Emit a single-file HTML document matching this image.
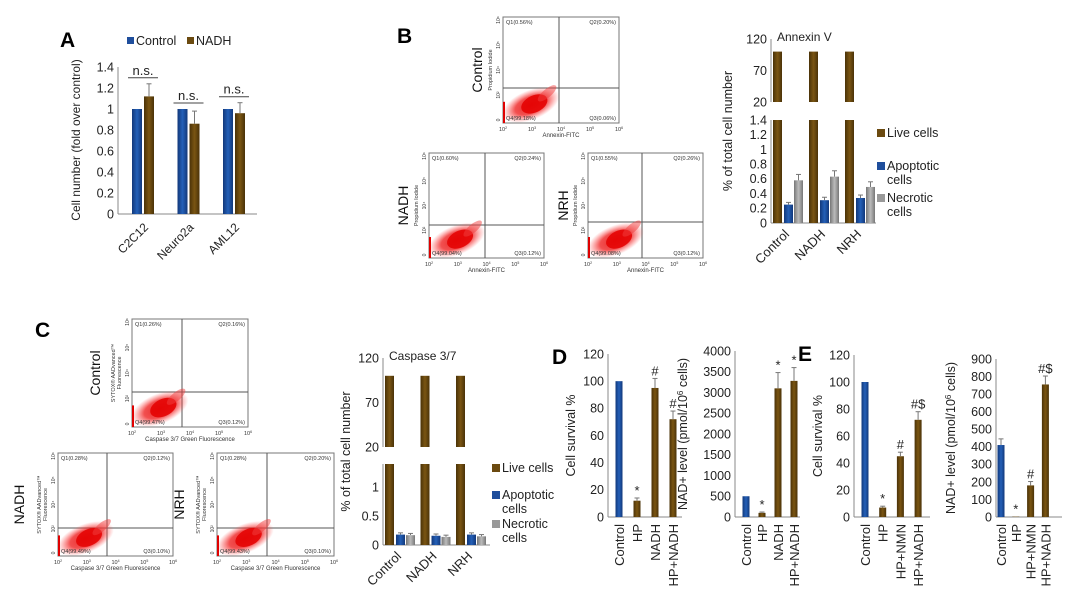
<!DOCTYPE html>
<html><head><meta charset="utf-8"><style>
html,body{margin:0;padding:0;background:#fff}
svg{display:block;font-family:"Liberation Sans",Arial,sans-serif}
</style></head><body>
<svg id="fig" width="1080" height="598" viewBox="0 0 1080 598">
<defs>
<radialGradient id="blob" cx="50%" cy="50%" r="50%">
<stop offset="0" stop-color="#e00000"/><stop offset="0.55" stop-color="#ee1a1a" stop-opacity="0.9"/><stop offset="1" stop-color="#ff5050" stop-opacity="0"/>
</radialGradient>
<linearGradient id="gBrown" x1="0" x2="1"><stop offset="0" stop-color="#4a3208"/><stop offset="0.5" stop-color="#7a5512"/><stop offset="1" stop-color="#4a3208"/></linearGradient>
<linearGradient id="gBlue" x1="0" x2="1"><stop offset="0" stop-color="#12387a"/><stop offset="0.5" stop-color="#2460b8"/><stop offset="1" stop-color="#12387a"/></linearGradient>
<linearGradient id="gGray" x1="0" x2="1"><stop offset="0" stop-color="#777"/><stop offset="0.5" stop-color="#bbb"/><stop offset="1" stop-color="#777"/></linearGradient>
</defs>
<g font-weight="bold" font-size="21" fill="#000">
<text x="60" y="47">A</text>
<text x="397" y="43">B</text>
<text x="35" y="337">C</text>
<text x="552" y="364">D</text>
<text x="798" y="361">E</text>
</g>
</svg>
<script>
// ---- Panel A data ----
const aCats=["C2C12","Neuro2a","AML12"];
const aControl=[1,1,1];
const aNADH=[1.12,0.86,0.96];
const aNADHErr=[0.12,0.12,0.1];
const aTicks=[0,0.2,0.4,0.6,0.8,1,1.2,1.4];
// ---- Annexin V ----
const bCats=["Control","NADH","NRH"];
const bLive=[100,100,100];
const bApop=[0.25,0.31,0.34];
const bApopErr=[0.03,0.04,0.04];
const bNecro=[0.58,0.63,0.49];
const bNecroErr=[0.08,0.08,0.07];
const bTicksLow=[0,0.2,0.4,0.6,0.8,1,1.2,1.4];
const bTicksHigh=[20,70,120];
// ---- Caspase 3/7 ----
const cLive=[100,100,100];
const cApop=[0.18,0.16,0.18];
const cApopErr=[0.03,0.03,0.03];
const cNecro=[0.17,0.14,0.15];
const cNecroErr=[0.03,0.03,0.03];
const cTicksLow=[0,0.5,1];
// ---- D ----
const dCats=["Control","HP","NADH","HP+NADH"];
const dSurv=[100,12,95,72];
const dSurvErr=[0,2,7,6];
const dSurvMark=["","*","#","#"];
const dNad=[500,100,3100,3280];
const dNadErr=[0,20,380,320];
const dNadMark=["","*","*","*"];
// ---- E ----
const eCats=["Control","HP","HP+NMN","HP+NADH"];
const eSurv=[100,7,45,72];
const eSurvErr=[0,1,3,6];
const eSurvMark=["","*","#","#$"];
const eNad=[410,2,180,755];
const eNadErr=[35,0,22,48];
const eNadMark=["","*","#","#$"];

const NS="http://www.w3.org/2000/svg";
const svg=document.getElementById('fig');
function el(tag,attrs,parent,txt){const e=document.createElementNS(NS,tag);for(const k in attrs)e.setAttribute(k,attrs[k]);if(txt!==undefined)e.textContent=txt;(parent||svg).appendChild(e);return e;}
function line(x1,y1,x2,y2,c,w,p){return el('line',{x1,y1,x2,y2,stroke:c||'#888',"stroke-width":w||1},p);}
function linY(d0,d1,p0,p1){return v=>p0+(v-d0)/(d1-d0)*(p1-p0);}

function bar(p,x,w,y0,y1,fill){const r=el('rect',{x:x,y:Math.min(y0,y1),width:w,height:Math.abs(y1-y0),fill:fill},p);return r;}
function err(p,cx,yTop,yErr){if(Math.abs(yErr-yTop)<0.5)return;line(cx,yTop,cx,yErr,'#777',1,p);line(cx-2.5,yErr,cx+2.5,yErr,'#777',1,p);}

function yAxis(p,x,ticks,y,fs){line(x,y(ticks[0]),x,y(ticks[ticks.length-1]),'#888',1,p);ticks.forEach(t=>{const tt=el('text',{x:x-4,y:y(t)+fs*0.35,"font-size":fs,"text-anchor":"end",fill:"#222"},p,String(t));});}
function yTitle(p,x,y,txt,fs){const t=el('text',{x:x,y:y,"font-size":fs,"text-anchor":"middle",transform:`rotate(-90 ${x} ${y})`,fill:"#222"},p,txt);return t;}
function catLabel(p,x,y,txt,fs,ang){const t=el('text',{x:x,y:y,"font-size":fs,"text-anchor":"end",transform:`rotate(${ang} ${x} ${y})`,fill:"#222"},p,txt);return t;}

// ===== Panel A =====
(function(){
const g=el('g',{});
const y=linY(0,1.4,214,67);
yAxis(g,118,aTicks,y,12.5);
line(118,214,257,214,'#888',1,g);
yTitle(g,80,140,"Cell number (fold over control)",12);
aCats.forEach((c,i)=>{const cx=143+i*45.5;
bar(g,cx-11,10,y(0),y(aControl[i]),'url(#gBlue)');
bar(g,cx+1,10,y(0),y(aNADH[i]),'url(#gBrown)');
err(g,cx+6,y(aNADH[i]),y(aNADH[i]+aNADHErr[i]));
const top=Math.max(aControl[i],aNADH[i]+aNADHErr[i]);
const ly=y(top)-6;line(cx-15,ly,cx+15,ly,'#444',1,g);
const t=el('text',{x:cx,y:ly-3,"font-size":13,"text-anchor":"middle",fill:"#222"},g,"n.s.");
catLabel(g,cx+6,228,c,12,-45);});
const lg=el('g',{},g);
el('rect',{x:127,y:37,width:7,height:7,fill:'#1f4e9c'},lg);el('text',{x:136,y:45,"font-size":12.5,fill:"#222"},lg,"Control");
el('rect',{x:187,y:37,width:7,height:7,fill:'#6b4a10'},lg);el('text',{x:196,y:45,"font-size":12.5,fill:"#222"},lg,"NADH");
})();

// ===== broken-axis chart =====
function broken(o){
const g=el('g',{});
const yH=linY(20,120,o.y20,o.y120), yL=linY(0,o.lowMax,o.y0,o.yLowMax);
yAxis(g,o.ax,o.highTicks,yH,12.5);
yAxis(g,o.ax,o.lowTicks,yL,12.5);
line(o.ax,o.y0,o.ax,o.yLowMax,'#888',1,g);
line(o.ax,o.y0,o.axEnd,o.y0,'#888',1,g);
yTitle(g,o.titleX,(o.y120+o.y0)/2,"% of total cell number",12.5);
const tt=el('text',{x:o.ax+6,y:o.y120+2,"font-size":12,fill:"#222"},g,o.title);
bCats.forEach((c,i)=>{const x=o.ax+2+i*o.sp;
bar(g,x,o.bw,yH(20),yH(o.live[i]),'url(#gBrown)');
bar(g,x,o.bw,yL(0),yL(o.lowMax),'url(#gBrown)');
bar(g,x+o.bw+2,o.bw,yL(0),yL(o.apop[i]),'url(#gBlue)');
err(g,x+o.bw+2+o.bw/2,yL(o.apop[i]),yL(o.apop[i]+o.apopErr[i]));
bar(g,x+2*o.bw+3,o.bw,yL(0),yL(o.necro[i]),'url(#gGray)');
err(g,x+2*o.bw+3+o.bw/2,yL(o.necro[i]),yL(o.necro[i]+o.necroErr[i]));
catLabel(g,x+o.bw+8,o.y0+12,c,13,-45);});
const lg=el('g',{},g);
const L=o.leg;
el('rect',{x:L.x,y:L.y1-8,width:8,height:8,fill:'#6b4a10'},lg);el('text',{x:L.x+10,y:L.y1,"font-size":12.5,fill:"#222"},lg,"Live cells");
el('rect',{x:L.x,y:L.y2-8,width:8,height:8,fill:'#1f4e9c'},lg);el('text',{x:L.x+10,y:L.y2,"font-size":12.5,fill:"#222"},lg,"Apoptotic");el('text',{x:L.x+10,y:L.y2+14,"font-size":12.5,fill:"#222"},lg,"cells");
el('rect',{x:L.x,y:L.y3-8,width:8,height:8,fill:'#999'},lg);el('text',{x:L.x+10,y:L.y3,"font-size":12.5,fill:"#222"},lg,"Necrotic");el('text',{x:L.x+10,y:L.y3+14,"font-size":12.5,fill:"#222"},lg,"cells");
}
broken({name:'chart-annexin',ax:771,axEnd:876,y120:39,y20:102,y0:223,yLowMax:120,lowMax:1.4,highTicks:bTicksHigh,lowTicks:bTicksLow,sp:36,bw:9,live:bLive,apop:bApop,apopErr:bApopErr,necro:bNecro,necroErr:bNecroErr,title:"Annexin V",titleX:732,leg:{x:877,y1:137,y2:170,y3:202}});
broken({name:'chart-caspase',ax:383,axEnd:490,y120:358,y20:447,y0:545,yLowMax:464,lowMax:1.4,highTicks:bTicksHigh,lowTicks:cTicksLow,sp:35.5,bw:9,live:cLive,apop:cApop,apopErr:cApopErr,necro:cNecro,necroErr:cNecroErr,title:"Caspase 3/7",titleX:350,leg:{x:492,y1:472,y2:499,y3:528}});

// ===== simple bar charts D/E =====
function simple(o){
const g=el('g',{});
const y=linY(0,o.max,o.y0,o.yMax);
yAxis(g,o.ax,o.ticks,y,12.5);
line(o.ax,o.y0,o.axEnd,o.y0,'#888',1,g);
const t=yTitle(g,o.titleX,(o.y0+o.yMax)/2,"",12.5);
if(o.sup){t.appendChild(document.createTextNode("NAD+ level (pmol/10"));el('tspan',{dy:-4,"font-size":8},t,"6");el('tspan',{dy:4},t," cells)");}else t.textContent=o.title;
o.cats.forEach((c,i)=>{const cx=o.ax+o.first+i*o.sp;
bar(g,cx-o.bw/2,o.bw,y(0),y(o.vals[i]),i===0?'url(#gBlue)':'url(#gBrown)');
err(g,cx,y(o.vals[i]),y(o.vals[i]+o.errs[i]));
if(o.marks[i]){const m=el('text',{x:cx,y:y(o.vals[i]+o.errs[i])-3,"font-size":13,"text-anchor":"middle",fill:"#222"},g,o.marks[i]);}
catLabel(g,cx+5,o.y0+7,c,13,-90);});
}
const t120=[0,20,40,60,80,100,120];
simple({name:'chart-d-survival',ax:608,axEnd:682,y0:517,yMax:354,max:120,ticks:t120,first:11,sp:18,bw:7,cats:dCats,vals:dSurv,errs:dSurvErr,marks:dSurvMark,title:"Cell survival %",titleX:575});
simple({name:'chart-d-nad',ax:735,axEnd:800,y0:517,yMax:351,max:4000,ticks:[0,500,1000,1500,2000,2500,3000,3500,4000],first:11,sp:16,bw:7,cats:dCats,vals:dNad,errs:dNadErr,marks:dNadMark,sup:true,titleX:687});
simple({name:'chart-e-survival',ax:854,axEnd:930,y0:517,yMax:355,max:120,ticks:t120,first:11,sp:17.7,bw:7,cats:eCats,vals:eSurv,errs:eSurvErr,marks:eSurvMark,title:"Cell survival %",titleX:822});
simple({name:'chart-e-nad',ax:996,axEnd:1062,y0:517,yMax:359,max:900,ticks:[0,100,200,300,400,500,600,700,800,900],first:5,sp:14.8,bw:7,cats:eCats,vals:eNad,errs:eNadErr,marks:eNadMark,sup:true,titleX:955});

// ===== flow cytometry plots =====
function flow(o){
const g=el('g',{});
const {l,t,r,b,vx,hy}=o;
el('rect',{x:l,y:t,width:r-l,height:b-t,fill:'none',stroke:'#777',"stroke-width":1},g);
line(vx,t,vx,b,'#555',1,g);line(l,hy,r,hy,'#555',1,g);
const w=r-l,h=b-t;
const e1x=l+w*0.24,e1y=b-h*0.17;
el('ellipse',{cx:e1x,cy:e1y,rx:w*0.26,ry:h*0.14,fill:'url(#blob)',opacity:0.85,transform:`rotate(-22 ${e1x} ${e1y})`},g);
el('ellipse',{cx:l+w*0.27,cy:b-h*0.18,rx:w*0.12,ry:h*0.08,fill:'#e40000',opacity:0.85,transform:`rotate(-25 ${l+w*0.27} ${b-h*0.18})`},g);
const e3x=l+w*0.38,e3y=b-h*0.28;
el('ellipse',{cx:e3x,cy:e3y,rx:w*0.1,ry:h*0.04,fill:'#f04040',opacity:0.5,transform:`rotate(-40 ${e3x} ${e3y})`},g);
el('rect',{x:l,y:b-h*0.2,width:2,height:h*0.2,fill:'#e00000'},g);
const fs=5.5;
const q=(x,y,s,a)=>el('text',{x,y,"font-size":fs,"text-anchor":a,fill:"#333"},g,s);
q(l+3,t+7,o.q[0],'start');q(r-3,t+7,o.q[1],'end');q(r-3,b-3,o.q[2],'end');q(l+3,b-3,o.q[3],'start');
["2","3","4","5","6"].forEach((e,i)=>{const x=l+i*w/4;const tx=el('text',{x:x,y:b+8,"font-size":5.5,"text-anchor":"middle",fill:"#333"},g,"10");el('tspan',{dy:-2,"font-size":3.5},tx,e);});
el('text',{x:l+w/2,y:b+14,"font-size":6,"text-anchor":"middle",fill:"#333"},g,o.xl);
["0","10²","10⁴","10⁵","10⁶"].forEach((s,i)=>{const yy=b-3-i*(h-6)/4;el('text',{x:l-3,y:yy,"font-size":5,"text-anchor":"middle",transform:`rotate(-90 ${l-3} ${yy})`,fill:"#333"},g,s);});
o.yl.forEach((s,i)=>{const x=l-11-i*6,y=(t+b)/2;el('text',{x,y,"font-size":5.5,"text-anchor":"middle",transform:`rotate(-90 ${x} ${y})`,fill:"#333"},g,s);});
const x=o.lx,y=(t+b)/2;
const lab=el('text',{x,y,"font-size":14,"text-anchor":"middle",transform:`rotate(-90 ${x} ${y})`,fill:"#111"},g,o.label);

}
const annY=["Propidium Iodide"],sytY=["Fluorescence","SYTOX® AADvanced™"];
flow({name:'flow-annexin-control',l:503,t:17,r:619,b:123,vx:559,hy:88,q:["Q1(0.56%)","Q2(0.20%)","Q3(0.06%)","Q4(99.18%)"],xl:"Annexin-FITC",yl:annY,label:"Control",lx:482});
flow({name:'flow-annexin-nadh',l:429,t:153,r:544,b:258,vx:485,hy:225,q:["Q1(0.60%)","Q2(0.24%)","Q3(0.12%)","Q4(99.04%)"],xl:"Annexin-FITC",yl:annY,label:"NADH",lx:408});
flow({name:'flow-annexin-nrh',l:588,t:153,r:703,b:258,vx:642,hy:222,q:["Q1(0.55%)","Q2(0.26%)","Q3(0.12%)","Q4(99.08%)"],xl:"Annexin-FITC",yl:annY,label:"NRH",lx:568});
flow({name:'flow-caspase-control',l:132,t:319,r:248,b:427,vx:182,hy:392,q:["Q1(0.26%)","Q2(0.16%)","Q3(0.12%)","Q4(99.47%)"],xl:"Caspase 3/7 Green Fluorescence",yl:sytY,label:"Control",lx:100});
flow({name:'flow-caspase-nadh',l:58,t:453,r:173,b:556,vx:107,hy:528,q:["Q1(0.28%)","Q2(0.12%)","Q3(0.10%)","Q4(99.49%)"],xl:"Caspase 3/7 Green Fluorescence",yl:sytY,label:"NADH",lx:24});
flow({name:'flow-caspase-nrh',l:217,t:453,r:334,b:556,vx:267,hy:528,q:["Q1(0.28%)","Q2(0.20%)","Q3(0.10%)","Q4(99.43%)"],xl:"Caspase 3/7 Green Fluorescence",yl:sytY,label:"NRH",lx:184});
</script>
</body></html>
